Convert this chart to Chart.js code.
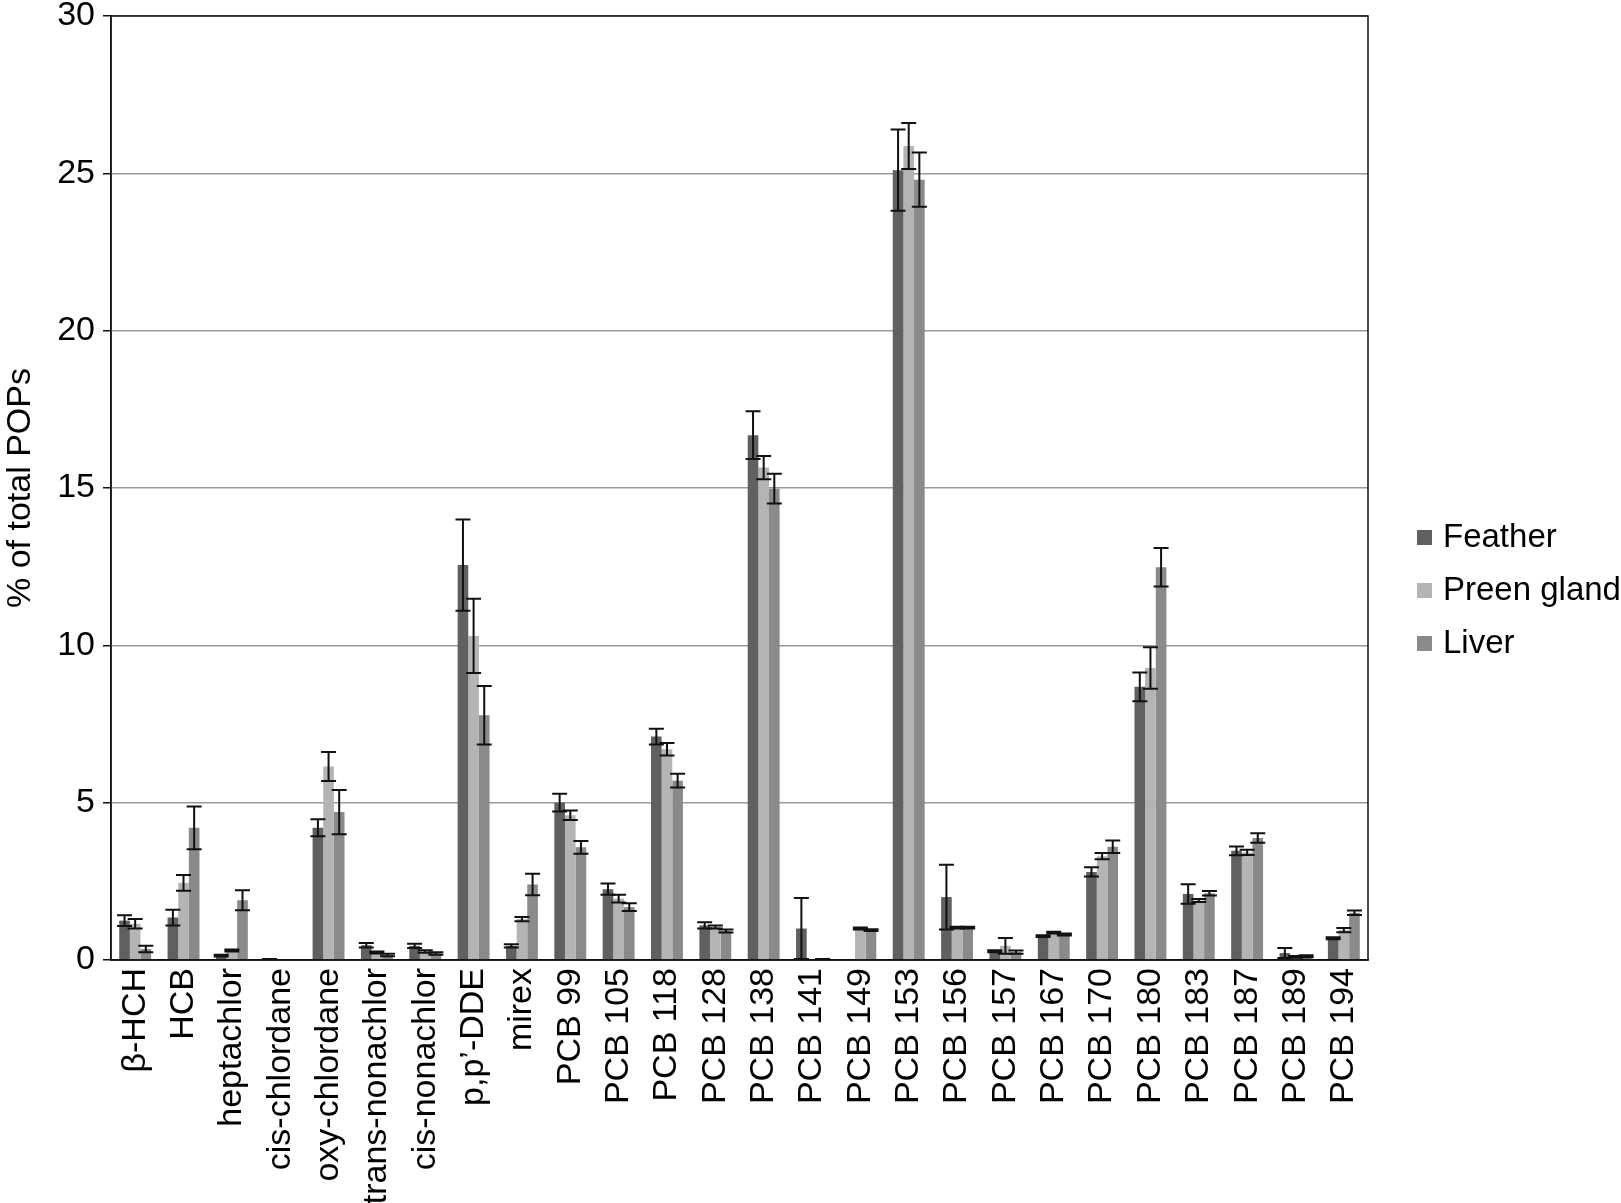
<!DOCTYPE html>
<html>
<head>
<meta charset="utf-8">
<script src="https://cdn.jsdelivr.net/npm/chart.js@4.4.1/dist/chart.umd.min.js"></script>
<style>
  html, body { margin: 0; padding: 0; background: #fff; }
  #wrap { width: 1621px; height: 1203px; }
</style>
</head>
<body>
<div id="wrap"><canvas id="popsChart"></canvas></div>
<script>
// categories and values
const categories = ['β-HCH', 'HCB', 'heptachlor', 'cis-chlordane', 'oxy-chlordane', 'trans-nonachlor',
  'cis-nonachlor', 'p,p’-DDE', 'mirex', 'PCB 99', 'PCB 105', 'PCB 118', 'PCB 128', 'PCB 138',
  'PCB 141', 'PCB 149', 'PCB 153', 'PCB 156', 'PCB 157', 'PCB 167', 'PCB 170', 'PCB 180',
  'PCB 183', 'PCB 187', 'PCB 189', 'PCB 194'];

const feather    = [1.25, 1.35, 0.14, 0.03, 4.2, 0.47, 0.45, 12.55, 0.45, 5.0, 2.25, 7.1, 1.1, 16.68, 1.0, 0, 25.1, 2.0, 0.28, 0.76, 2.8, 8.68, 2.1, 3.47, 0.22, 0.69];
const featherErr = [0.17, 0.25, 0.03, 0, 0.27, 0.07, 0.07, 1.45, 0.05, 0.28, 0.18, 0.25, 0.1, 0.76, 0.97, 0, 1.29, 1.03, 0.03, 0.03, 0.15, 0.46, 0.31, 0.14, 0.16, 0.03];

const preen      = [1.15, 2.45, 0.3, 0, 6.15, 0.24, 0.27, 10.3, 1.3, 4.6, 1.95, 6.7, 1.05, 15.65, 0, 1.0, 25.87, 1.03, 0.45, 0.87, 3.3, 9.28, 1.89, 3.42, 0.1, 0.95];
const preenErr   = [0.15, 0.25, 0.03, 0, 0.46, 0.03, 0.04, 1.18, 0.07, 0.15, 0.12, 0.2, 0.05, 0.37, 0, 0.03, 0.73, 0.03, 0.25, 0.03, 0.1, 0.66, 0.05, 0.08, 0.03, 0.07];

const liver      = [0.35, 4.2, 1.9, 0, 4.7, 0.16, 0.21, 7.78, 2.4, 3.58, 1.68, 5.7, 0.92, 14.98, 0.03, 0.95, 24.8, 1.03, 0.25, 0.81, 3.6, 12.48, 2.12, 3.88, 0.12, 1.5];
const liverErr   = [0.1, 0.68, 0.32, 0, 0.7, 0.04, 0.04, 0.93, 0.34, 0.2, 0.12, 0.22, 0.05, 0.47, 0, 0.03, 0.86, 0.03, 0.05, 0.03, 0.2, 0.61, 0.07, 0.15, 0.03, 0.07];

const yTicks = [0, 5, 10, 15, 20, 25, 30];

const FONT = "'Liberation Sans', Arial, sans-serif";

// error bars drawn with the y scale
const errorBars = {
  id: 'errorBars',
  afterDatasetsDraw(chart) {
    const ctx = chart.ctx;
    const y = chart.scales.y;
    ctx.save();
    ctx.strokeStyle = '#111';
    ctx.lineWidth = 2;
    chart.data.datasets.forEach((ds, i) => {
      const meta = chart.getDatasetMeta(i);
      meta.data.forEach((bar, j) => {
        const v = ds.data[j];
        const e = ds.errors[j];
        if (!v) return;
        const top = y.getPixelForValue(v + e);
        const bot = y.getPixelForValue(Math.max(v - e, 0));
        const half = 7.5;
        ctx.beginPath();
        ctx.moveTo(bar.x, top); ctx.lineTo(bar.x, bot);
        ctx.moveTo(bar.x - half, top); ctx.lineTo(bar.x + half, top);
        ctx.moveTo(bar.x - half, bot); ctx.lineTo(bar.x + half, bot);
        ctx.stroke();
      });
    });
    ctx.restore();
  }
};

// frame around the plot and the legend on the right
const frameAndLegend = {
  id: 'frameAndLegend',
  afterDraw(chart) {
    const ctx = chart.ctx;
    const a = chart.chartArea;
    ctx.save();
    ctx.strokeStyle = '#111';
    ctx.lineWidth = 1.5;
    ctx.strokeRect(a.left, a.top, a.right - a.left, a.bottom - a.top);

    ctx.font = '33px ' + FONT;
    ctx.textBaseline = 'middle';
    chart.data.datasets.forEach((ds, i) => {
      const cy = 537 + i * 53;
      ctx.fillStyle = ds.backgroundColor;
      ctx.fillRect(a.right + 49, cy - 7, 15, 15);
      ctx.fillStyle = '#000';
      ctx.fillText(ds.label, a.right + 75, cy + 1);
    });
    ctx.restore();
  }
};

const ctx = document.getElementById('popsChart').getContext('2d');

new Chart(ctx, {
  type: 'bar',
  data: {
    labels: categories,
    datasets: [
      { label: 'Feather', data: feather, errors: featherErr, backgroundColor: '#606060' },
      { label: 'Preen gland', data: preen, errors: preenErr, backgroundColor: '#b4b4b4' },
      { label: 'Liver', data: liver, errors: liverErr, backgroundColor: '#8a8a8a' }
    ]
  },
  options: {
    responsive: true,
    maintainAspectRatio: false,
    animation: false,
    datasets: { bar: { categoryPercentage: 0.66, barPercentage: 1.0 } },
    layout: { padding: { top: 16, right: 253, left: 0, bottom: 0 } },
    scales: {
      x: {
        grid: { display: false, drawTicks: false },
        border: { display: true, color: '#111', width: 1.5 },
        ticks: {
          color: '#000',
          font: { size: 34, family: FONT },
          minRotation: 90, maxRotation: 90,
          padding: 8,
          autoSkip: false
        },
        afterFit(scale) { scale.height = 243; scale.paddingLeft = 0; scale.paddingRight = 0; }
      },
      y: {
        min: 0, max: 30,
        afterBuildTicks(scale) { scale.ticks = yTicks.map(v => ({ value: v })); },
        grid: { color: '#999', lineWidth: 1.5, tickLength: 8, tickColor: '#111' },
        border: { display: true, color: '#111', width: 1.5 },
        ticks: { color: '#000', font: { size: 34, family: FONT }, padding: 8 },
        title: {
          display: true, text: '% of total POPs', color: '#000',
          font: { size: 34, family: FONT }, padding: { top: 0, bottom: 0 }
        },
        afterFit(scale) { scale.width = 111; scale.paddingTop = 0; scale.paddingBottom = 0; }
      }
    },
    plugins: {
      legend: { display: false },
      tooltip: { enabled: false }
    }
  },
  plugins: [errorBars, frameAndLegend]
});
</script>
</body>
</html>
